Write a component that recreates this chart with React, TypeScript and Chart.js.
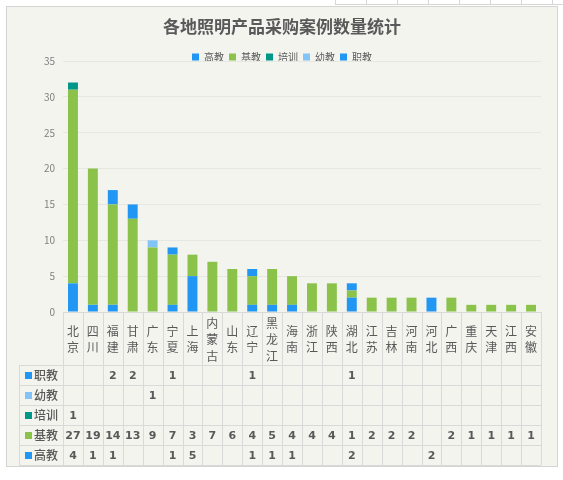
import React, { useEffect, useRef } from 'react';
import { Chart, registerables } from 'chart.js';

Chart.register(...registerables);

const categories = ['北京', '四川', '福建', '甘肃', '广东', '宁夏', '上海', '内蒙古', '山东', '辽宁', '黑龙江', '海南', '浙江', '陕西', '湖北', '江苏', '吉林', '河南', '河北', '广西', '重庆', '天津', '江西', '安徽'];

const seriesNames = ['高教', '基教', '培训', '幼教', '职教'];
const seriesColors = ['#2196F3', '#8BC34A', '#009688', '#82C4F8', '#2196F3'];

const gaojiao = [4, 1, 1, null, null, 1, 5, null, null, 1, 1, 1, null, null, 2, null, null, null, 2, null, null, null, null, null];
const jijiao = [27, 19, 14, 13, 9, 7, 3, 7, 6, 4, 5, 4, 4, 4, 1, 2, 2, 2, null, 2, 1, 1, 1, 1];
const peixun = [1, null, null, null, null, null, null, null, null, null, null, null, null, null, null, null, null, null, null, null, null, null, null, null];
const youjiao = [null, null, null, null, 1, null, null, null, null, null, null, null, null, null, null, null, null, null, null, null, null, null, null, null];
const zhijiao = [null, null, 2, 2, null, 1, null, null, null, 1, null, null, null, null, 1, null, null, null, null, null, null, null, null, null];

const seriesValues = [gaojiao, jijiao, peixun, youjiao, zhijiao];

const yMin = 0;
const yMax = 35;
const yStep = 5;

const FONT = "'Noto Sans CJK SC', 'Noto Sans', sans-serif";
const TEXT = '#595959';
const GRID = '#d9d9d9';

const framePlugin = {
  id: 'frame',
  beforeDraw(chart: any) {
    const ctx = chart.ctx;
    ctx.save();
    ctx.fillStyle = '#ffffff';
    ctx.fillRect(0, 0, chart.width, chart.height);
    // faint spreadsheet cell lines peeking above the chart frame
    ctx.strokeStyle = '#d6d6d6';
    ctx.lineWidth = 1;
    ctx.beginPath();
    ctx.moveTo(335, 4.5);
    ctx.lineTo(563, 4.5);
    for (let x = 335; x < 563; x += 31) {
      ctx.moveTo(x + 0.5, 0);
      ctx.lineTo(x + 0.5, 5);
    }
    ctx.stroke();
    ctx.fillStyle = '#f4f4ef';
    ctx.fillRect(6, 6, 552, 461);
    ctx.strokeStyle = '#d4d4d4';
    ctx.strokeRect(6.5, 6.5, 551, 460);
    ctx.restore();
  },
};

const tablePlugin = {
  id: 'dataTable',
  afterDraw(chart: any) {
    const ctx = chart.ctx;
    const xs = chart.scales.x;
    const area = chart.chartArea;
    const n = categories.length;
    const left = area.left;
    const right = area.right;
    const colW = (right - left) / n;
    const top = Math.round(area.bottom);
    const headerH = 53;
    const rowH = 20;
    const labelLeft = left - 44;
    const rowOrder = [4, 3, 2, 1, 0];
    const bottom = top + headerH + rowH * rowOrder.length;
    const px = (v: number) => Math.round(v) + 0.5;

    ctx.save();
    ctx.strokeStyle = GRID;
    ctx.lineWidth = 1;
    ctx.beginPath();
    ctx.moveTo(left, px(top));
    ctx.lineTo(right, px(top));
    for (let r = 0; r <= rowOrder.length; r++) {
      const y = px(top + headerH + r * rowH);
      ctx.moveTo(labelLeft, y);
      ctx.lineTo(right, y);
    }
    for (let i = 0; i <= n; i++) {
      const x = px(left + i * colW);
      ctx.moveTo(x, top);
      ctx.lineTo(x, bottom);
    }
    ctx.moveTo(px(labelLeft), top + headerH);
    ctx.lineTo(px(labelLeft), bottom);
    ctx.stroke();

    // header labels (vertical characters)
    ctx.fillStyle = TEXT;
    ctx.textAlign = 'center';
    ctx.textBaseline = 'middle';
    ctx.font = `12px ${FONT}`;
    const pitch = 16.5;
    const headerMid = top + headerH / 2 + 1;
    categories.forEach((cat, i) => {
      const cx = xs.getPixelForValue(i);
      const chars = Array.from(cat);
      const start = headerMid - ((chars.length - 1) * pitch) / 2;
      chars.forEach((ch, k) => {
        ctx.fillText(ch, cx, start + k * pitch);
      });
    });

    // rows
    rowOrder.forEach((si, r) => {
      const yMid = top + headerH + r * rowH + rowH / 2;
      ctx.fillStyle = seriesColors[si];
      ctx.fillRect(labelLeft + 6, Math.round(yMid - 3.5), 7, 7);
      ctx.fillStyle = TEXT;
      ctx.textAlign = 'left';
      ctx.font = `500 12px ${FONT}`;
      ctx.fillText(seriesNames[si], labelLeft + 15, yMid);
      ctx.textAlign = 'center';
      ctx.font = `bold 11px 'DejaVu Sans', sans-serif`;
      seriesValues[si].forEach((v, i) => {
        if (v === null || v === undefined) return;
        ctx.fillText(String(v), xs.getPixelForValue(i), yMid + 1);
      });
    });
    ctx.restore();
  },
};

export default function App() {
  const ref = useRef<HTMLCanvasElement | null>(null);

  useEffect(() => {
    if (!ref.current) return;
    const chart = new Chart(ref.current, {
      type: 'bar',
      data: {
        labels: categories,
        datasets: seriesNames.map((name, i) => ({
          label: name,
          data: seriesValues[i],
          backgroundColor: seriesColors[i],
          borderWidth: 0,
          barPercentage: 0.5,
          categoryPercentage: 1.0,
        })),
      },
      options: {
        responsive: false,
        animation: false,
        events: [],
        layout: {
          padding: { top: 0, left: 23, right: 22, bottom: 168 },
        },
        plugins: {
          title: {
            display: true,
            text: '各地照明产品采购案例数量统计',
            color: TEXT,
            font: { family: FONT, size: 17, weight: 'bold' },
            padding: { top: 16.8, bottom: 9.8 },
          },
          legend: {
            display: true,
            position: 'top',
            maxHeight: 14,
            labels: {
              color: TEXT,
              font: { family: FONT, size: 10 },
              boxWidth: 7,
              boxHeight: 7,
              padding: 5,
            },
          },
          tooltip: { enabled: false },
        },
        scales: {
          x: {
            display: false,
            stacked: true,
          },
          y: {
            stacked: true,
            min: yMin,
            max: yMax,
            ticks: {
              stepSize: yStep,
              color: '#7f7f7f',
              font: { family: FONT, size: 10 },
              padding: 8,
            },
            grid: {
              color: '#e7e7e2',
              drawTicks: false,
            },
            border: { display: false },
            afterFit(scale: any) {
              scale.width = 40;
            },
          },
        },
      },
      plugins: [framePlugin, tablePlugin],
    } as any);
    return () => chart.destroy();
  }, []);

  return (
    <div style={{ position: 'absolute', left: 0, top: 0, width: 563, height: 480 }}>
      <canvas ref={ref} width={563} height={480} style={{ width: 563, height: 480, display: 'block' }} />
    </div>
  );
}
